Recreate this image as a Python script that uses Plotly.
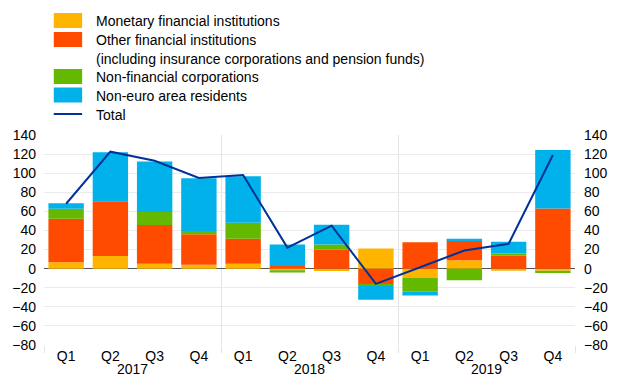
import plotly.graph_objects as go

quarters = ["Q1", "Q2", "Q3", "Q4"] * 3
years = ["2017", "2018", "2019"]

mfi = [6.6, 13.2, 5.2, 4.2, 5.2, -1.7, -2.6, 21.1, -9.7, 8.7, -2.2, -2.2]
ofi = [45.6, 57.5, 40.4, 31.7, 26.1, 2.8, 19.8, -16.6, 27.7, 21.1, 13.5, 63.1]
nfc = [10.5, 0.0, 13.8, 3.4, 16.8, -2.3, 5.5, -1.4, -14.6, -12.1, 2.4, -2.4]
ner = [5.9, 51.2, 52.9, 55.4, 48.7, 22.6, 20.8, -14.6, -3.8, 1.4, 12.2, 61.3]
total = [68, 122.5, 113, 95, 98, 22, 45, -16, 1.5, 19, 26, 119]

names = ["Monetary financial institutions",
         "Other financial institutions",
         "(including insurance corporations and pension funds)",
         "Non-financial corporations",
         "Non-euro area residents",
         "Total"]
colors = {"mfi": "#ffb400", "ofi": "#ff4b00", "nfc": "#65b800", "ner": "#00b1ea", "tot": "#003299"}

W, H = 620, 387
L, R, T, B = 38, 39, 135, 42
PW, PH = W - L - R, H - T - B

def px(x):
    return (x - L) / PW

def py(y):
    return (H - B - y) / PH

xs = list(range(len(quarters)))
fig = go.Figure()
for vals, key in [(mfi, "mfi"), (ofi, "ofi"), (nfc, "nfc"), (ner, "ner")]:
    fig.add_trace(go.Bar(x=xs, y=vals, marker=dict(color=colors[key], line=dict(width=0)),
                         width=0.8, showlegend=False, hoverinfo="skip"))
fig.add_trace(go.Scatter(x=xs, y=total, mode="lines", line=dict(color=colors["tot"], width=2),
                         showlegend=False, hoverinfo="skip"))
fig.add_trace(go.Scatter(x=[None], y=[None], yaxis="y2", showlegend=False))

font = dict(family="Liberation Sans, Arial, sans-serif", size=14, color="#000000")

fig.update_layout(
    width=W, height=H, margin=dict(l=L, r=R, t=T, b=B),
    barmode="relative", bargap=0.2,
    plot_bgcolor="white", paper_bgcolor="white",
    font=font, showlegend=False,
    xaxis=dict(range=[-0.5, 11.5], tickmode="array", tickvals=xs, ticktext=quarters,
               showgrid=False, zeroline=False, showline=False, ticks="", ticklabelstandoff=1,
               minor=dict(tickmode="linear", tick0=-0.5, dtick=4, ticks="outside", ticklen=7,
                          tickcolor="#e4e4e4", showgrid=True, gridcolor="#e4e4e4", gridwidth=1)),
    yaxis=dict(range=[-80, 140], dtick=20, showgrid=True, gridcolor="#ebebeb", gridwidth=1,
               zeroline=True, zerolinecolor="#555555", zerolinewidth=1,
               showline=False, ticks="", ticklabelstandoff=7),
    yaxis2=dict(range=[-80, 140], dtick=20, overlaying="y", side="right", showgrid=False,
                zeroline=False, showline=False, ticks="", ticklabelstandoff=8),
)

# year labels
for i, yr in enumerate(years):
    fig.add_annotation(x=4 * i + 1.5, y=py(369), xref="x", yref="paper", text=yr,
                       showarrow=False, font=font, yanchor="middle")

# legend
rows = [("mfi", 21, 20.5, names[0]), ("ofi", 40, 39.5, names[1]), (None, 59, None, names[2]),
        ("nfc", 77, 76.5, names[3]), ("ner", 96, 95, names[4]), ("tot", 115, 114, names[5])]
for key, ty, sy, label in rows:
    fig.add_annotation(x=px(89), y=py(ty), xref="paper", yref="paper", text=label,
                       showarrow=False, xanchor="left", yanchor="middle", font=font)
    if key is None:
        continue
    if key == "tot":
        fig.add_shape(type="line", xref="paper", yref="paper", x0=px(48), x1=px(77),
                      y0=py(sy), y1=py(sy), line=dict(color=colors[key], width=2))
    else:
        fig.add_shape(type="rect", xref="paper", yref="paper", x0=px(48), x1=px(77),
                      y0=py(sy - 7.5), y1=py(sy + 7.5), fillcolor=colors[key], line=dict(width=0))

fig.write_html("out.html", config={"displayModeBar": False},
               post_script="document.body.style.margin='0';")
